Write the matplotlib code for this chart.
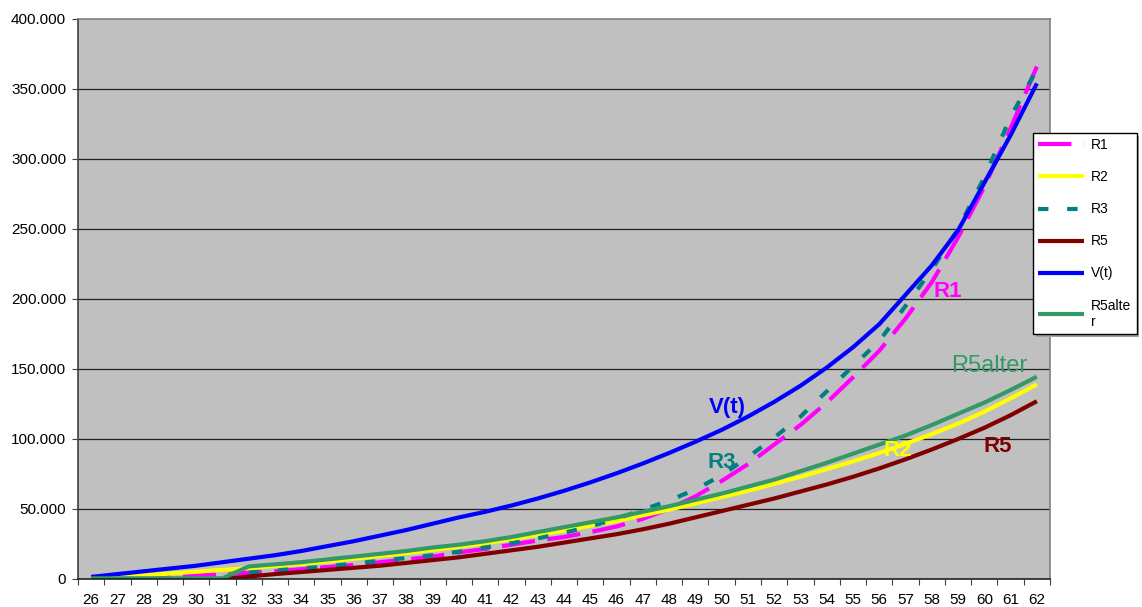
import numpy as np
import matplotlib.pyplot as plt
from matplotlib.ticker import FuncFormatter

plt.rcParams['font.family'] = ['Liberation Sans', 'DejaVu Sans']

nan = np.nan
years = list(range(26, 63))

# Werte in Tausend
r1 = [0, 0.5, 1, 1.7, 2.5, 3.3, 4.5, 5.5, 7, 8.5, 10, 12, 14, 16, 19, 21.5,
      24.5, 27.5, 30, 33.5, 37.5, 43, 50, 59, 70, 82, 96, 110, 126, 144,
      163, 186, 212, 244, 280, 322, 366]
r2 = [0, 1.3, 2.6, 3.9, 5.2, 6.5, 7.8, 9.3, 10.8, 12.5, 14.5, 16.5, 18.5,
      20.8, 23, 25.5, 28.5, 31.5, 34.5, 38, 41.5, 45.5, 49.5, 54, 58.5, 63,
      68, 73, 78.5, 84, 90, 96.5, 103.5, 111, 119.5, 129, 139]
r3 = [nan, nan, nan, nan, nan, nan, 4.5, 6, 7.5, 9, 11, 13, 15, 17, 19.5,
      22.5, 25.5, 29, 33, 37.5, 43, 49.5, 56, 64, 74, 87, 101, 116, 134,
      152, 170, 195, 221, 250, 287, 330, 364]
r5 = [nan, nan, nan, nan, nan, 0, 1.8, 3.5, 5, 6.5, 8, 9.5, 11.5, 13.5,
      15.5, 18, 20.5, 23, 26, 29, 32, 35.5, 39.5, 44, 48.5, 53, 57.5, 62.5,
      67.5, 73, 79, 85.5, 92.5, 100, 108, 117, 127]
vt = [1.5, 3.5, 5.5, 7.5, 9.5, 12, 14.5, 17, 20, 23.5, 27, 31, 35, 39.5,
      44, 48, 52.5, 57.5, 63, 69, 75.5, 82.5, 90, 98, 106.5, 116, 126.5,
      138, 151, 165.5, 182, 203, 224, 249, 283, 317, 354]
r5alter = [0.5, 0.5, 0.5, 0.5, 0.5, 0.5, 9, 10.5, 12, 14, 16, 18, 20, 22.5,
           24.5, 27, 30, 33.5, 37, 40.5, 44, 48, 52, 56.5, 61, 66, 71, 77,
           83, 89.5, 96, 102.5, 110, 118, 126, 135, 144.5]

series = [
    ("R1", r1, "#FF00FF", (0, (8, 3))),
    ("R2", r2, "#FFFF00", "-"),
    ("R3", r3, "#008080", (0, (2.5, 4.5))),
    ("R5", r5, "#800000", "-"),
    ("V(t)", vt, "#0000FF", "-"),
    ("R5alte\nr", r5alter, "#339966", "-"),
]

fig = plt.figure(figsize=(11.42, 6.07), dpi=100)
ax = fig.add_axes([78 / 1142, 28 / 607, 972 / 1142, 560 / 607])
ax.set_facecolor("#C0C0C0")

x = np.arange(len(years))
for name, vals, col, ls in series:
    ax.plot(x, np.array(vals, dtype=float) * 1000, color=col, lw=3,
            linestyle=ls, label=name, solid_capstyle="butt",
            dash_capstyle="butt")

ax.set_xlim(-0.5, len(years) - 0.5)
ax.set_ylim(0, 400000)
ax.set_yticks(np.arange(0, 400001, 50000))
ax.yaxis.set_major_formatter(
    FuncFormatter(lambda v, p: "0" if v == 0 else f"{int(v):,}".replace(",", ".")))
ax.set_xticks(x)
ax.set_xticklabels([str(y) for y in years])
ax.set_xticks(np.arange(-0.5, len(years)), minor=True)

ax.tick_params(axis="x", which="major", length=0, pad=10, labelsize=11)
ax.tick_params(axis="x", which="minor", length=4.5, width=0.8,
               color="#404040", direction="out")
ax.tick_params(axis="y", length=4.5, width=0.8, color="#404040", pad=4,
               labelsize=11)

for yv in range(50000, 400000, 50000):
    ax.axhline(yv, color="#202020", lw=0.9, zorder=1)

ax.spines["left"].set_color("#404040")
ax.spines["bottom"].set_color("#202020")
ax.spines["top"].set_color("#808080")
ax.spines["right"].set_color("#808080")
for s in ax.spines.values():
    s.set_linewidth(1.2)

# Beschriftungen direkt an den Kurven
ax.text(24.2, 122500, "V(t)", color="#0000FF", fontsize=16, weight="bold",
        ha="center", va="center")
ax.text(24.0, 83500, "R3", color="#008080", fontsize=16, weight="bold",
        ha="center", va="center")
ax.text(32.6, 205500, "R1", color="#FF00FF", fontsize=16, weight="bold",
        ha="center", va="center")
ax.text(34.2, 152500, "R5alter", color="#339966", fontsize=17,
        ha="center", va="center")
ax.text(30.7, 92000, "R2", color="#FFFF00", fontsize=16, weight="bold",
        ha="center", va="center")
ax.text(34.5, 95000, "R5", color="#800000", fontsize=16, weight="bold",
        ha="center", va="center")

leg = ax.legend(loc="upper left", bbox_to_anchor=(1033 / 1142, 1 - 133 / 607),
                bbox_transform=fig.transFigure, borderaxespad=0,
                fontsize=10, handlelength=3.3, handletextpad=0.5,
                labelspacing=1.3, borderpad=0.38, fancybox=False,
                framealpha=1, edgecolor="black",
                shadow={"color": "#A0A0A0", "alpha": 1, "linewidth": 0})
leg.get_frame().set_linewidth(1.0)

fig.savefig("out.png", dpi=100)
